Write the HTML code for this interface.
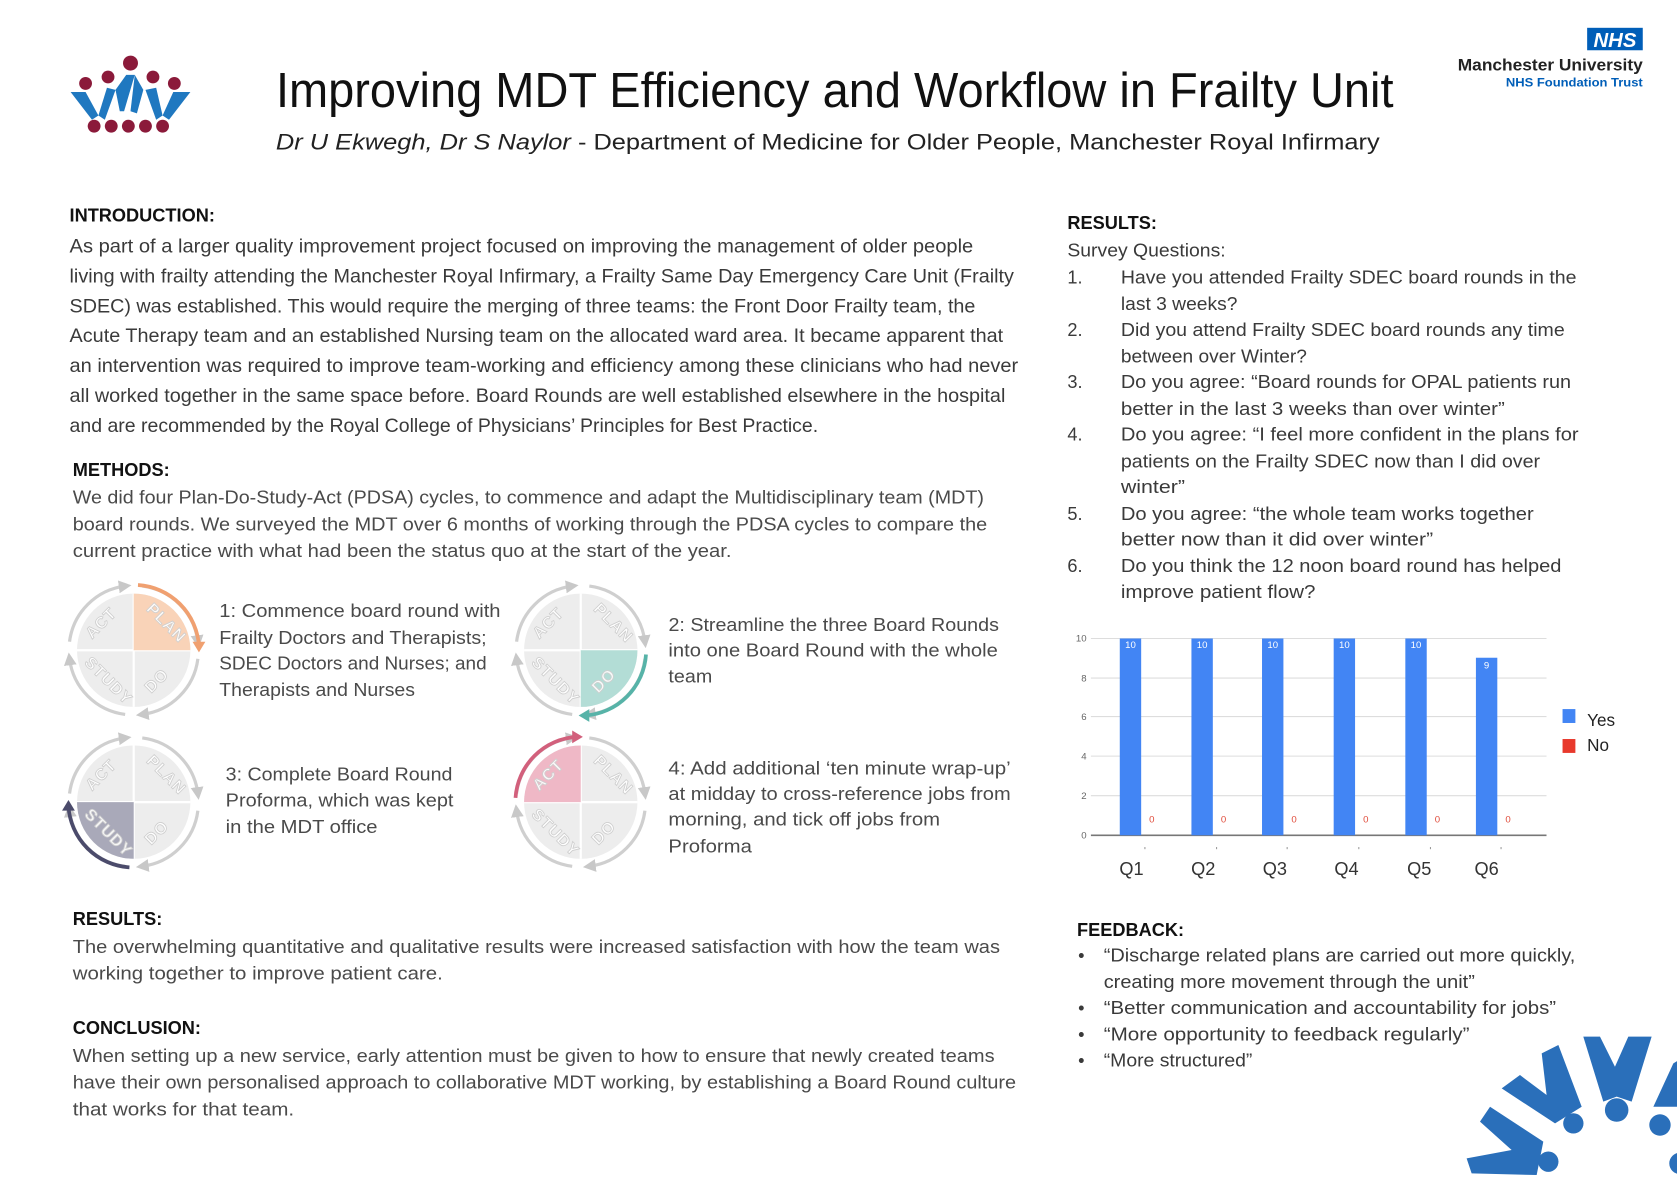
<!DOCTYPE html>
<html><head><meta charset="utf-8"><style>
html,body{margin:0;padding:0;background:#fff;}
svg{display:block;}
text{font-family:"Liberation Sans",sans-serif;}
.b{font-size:18px;fill:#3a3a3a;}
.m{font-size:17.5px;fill:#4a4a4a;}
.h{font-size:17px;font-weight:bold;fill:#111;}
.r{font-size:17px;fill:#3a3a3a;}
.q{font-family:"Liberation Sans",sans-serif;font-size:15px;font-weight:bold;fill:#fff;fill-opacity:0.9;stroke:#cfcfcf;stroke-width:0.8;letter-spacing:1px;}
</style></head><body>
<svg width="1677" height="1185" viewBox="0 0 1568 1108" xmlns="http://www.w3.org/2000/svg">
<defs>
<marker id="ah" viewBox="0 0 10 10" refX="5" refY="5" markerWidth="4" markerHeight="4" orient="auto"><path d="M0,0L10,5L0,10z" fill="#c8c8c8"/></marker>
<g id="pdsa">
  <circle r="53" fill="#ededed"/>
  <line x1="-53" y1="0" x2="53" y2="0" stroke="#fff" stroke-width="2"/>
  <line x1="0" y1="-53" x2="0" y2="53" stroke="#fff" stroke-width="2"/>
  <path d="M8,-60 A60,60 0 0 1 60,-8" fill="none" stroke="#cfcfcf" stroke-width="3" marker-end="url(#ah)"/>
  <path d="M60,8 A60,60 0 0 1 8,60" fill="none" stroke="#cfcfcf" stroke-width="3" marker-end="url(#ah)"/>
  <path d="M-8,60 A60,60 0 0 1 -60,8" fill="none" stroke="#cfcfcf" stroke-width="3" marker-end="url(#ah)"/>
  <path d="M-60,-8 A60,60 0 0 1 -8,-60" fill="none" stroke="#cfcfcf" stroke-width="3" marker-end="url(#ah)"/>
</g>
<g id="lbl">
  <text class="q" transform="translate(-27,-22) rotate(-45)" text-anchor="middle">ACT</text>
  <text class="q" transform="translate(27,-22) rotate(45)" text-anchor="middle">PLAN</text>
  <text class="q" transform="translate(25,32) rotate(-45)" text-anchor="middle">DO</text>
  <text class="q" transform="translate(-27,32) rotate(45)" text-anchor="middle">STUDY</text>
</g>
</defs>

<!-- top-left logo -->
<g>
  <circle cx="122" cy="59" r="7" fill="#8b1a3a"/>
  <circle cx="80" cy="78" r="6" fill="#8b1a3a"/>
  <circle cx="163" cy="78" r="6" fill="#8b1a3a"/>
  <circle cx="101" cy="72" r="6" fill="#8b1a3a"/>
  <circle cx="143" cy="72" r="6" fill="#8b1a3a"/>
  <g fill="#1f78c0">
    <polygon points="66,86 80,86 92,108 86,112"/>
    <polygon points="92,108 100,82 108,84 98,112"/>
    <polygon points="108,84 118,70 126,70 116,104 112,104"/>
    <polygon points="126,70 134,84 128,106 122,104"/>
    <polygon points="136,84 146,82 152,108 146,112"/>
    <polygon points="152,108 162,86 178,86 158,112"/>
  </g>
  <circle cx="88" cy="118" r="6" fill="#8b1a3a"/>
  <circle cx="104" cy="118" r="6" fill="#8b1a3a"/>
  <circle cx="120" cy="118" r="6" fill="#8b1a3a"/>
  <circle cx="136" cy="118" r="6" fill="#8b1a3a"/>
  <circle cx="152" cy="118" r="6" fill="#8b1a3a"/>
</g>

<!-- title -->
<text x="258" y="100" font-size="46" fill="#111" textLength="1045" lengthAdjust="spacingAndGlyphs">Improving MDT Efficiency and Workflow in Frailty Unit</text>
<text x="258" y="140" font-size="21" fill="#222" textLength="1032" lengthAdjust="spacingAndGlyphs"><tspan font-style="italic">Dr U Ekwegh, Dr S Naylor</tspan> - Department of Medicine for Older People, Manchester Royal Infirmary</text>

<!-- NHS logo -->
<rect x="1484" y="26" width="52" height="21" fill="#005eb8"/>
<text x="1510" y="44" font-size="19" font-weight="bold" font-style="italic" fill="#fff" text-anchor="middle">NHS</text>
<text x="1536" y="66" font-size="15.5" font-weight="bold" fill="#222" text-anchor="end" textLength="173" lengthAdjust="spacingAndGlyphs">Manchester University</text>
<text x="1536" y="81" font-size="11.5" font-weight="bold" fill="#005eb8" text-anchor="end" textLength="128" lengthAdjust="spacingAndGlyphs">NHS Foundation Trust</text>

<!-- Introduction -->
<text class="h" x="65" y="207">INTRODUCTION:</text>
<g class="b">
<text x="65" y="236" textLength="845" lengthAdjust="spacingAndGlyphs">As part of a larger quality improvement project focused on improving the management of older people</text>
<text x="65" y="264" textLength="883" lengthAdjust="spacingAndGlyphs">living with frailty attending the Manchester Royal Infirmary, a Frailty Same Day Emergency Care Unit (Frailty</text>
<text x="65" y="292" textLength="847" lengthAdjust="spacingAndGlyphs">SDEC) was established. This would require the merging of three teams: the Front Door Frailty team, the</text>
<text x="65" y="320" textLength="873" lengthAdjust="spacingAndGlyphs">Acute Therapy team and an established Nursing team on the allocated ward area. It became apparent that</text>
<text x="65" y="348" textLength="887" lengthAdjust="spacingAndGlyphs">an intervention was required to improve team-working and efficiency among these clinicians who had never</text>
<text x="65" y="376" textLength="875" lengthAdjust="spacingAndGlyphs">all worked together in the same space before. Board Rounds are well established elsewhere in the hospital</text>
<text x="65" y="404" textLength="700" lengthAdjust="spacingAndGlyphs">and are recommended by the Royal College of Physicians’ Principles for Best Practice.</text>
</g>

<!-- Methods -->
<text class="h" x="68" y="445">METHODS:</text>
<g class="m">
<text x="68" y="471" textLength="852" lengthAdjust="spacingAndGlyphs">We did four Plan-Do-Study-Act (PDSA) cycles, to commence and adapt the Multidisciplinary team (MDT)</text>
<text x="68" y="496" textLength="855" lengthAdjust="spacingAndGlyphs">board rounds. We surveyed the MDT over 6 months of working through the PDSA cycles to compare the</text>
<text x="68" y="521" textLength="616" lengthAdjust="spacingAndGlyphs">current practice with what had been the status quo at the start of the year.</text>
</g>

<!-- PDSA 1 -->
<g transform="translate(125,608)">
  <use href="#pdsa"/>
  <path d="M0,0 L0,-53 A53,53 0 0 1 53,0 Z" fill="#f9d3b8"/>
  <path d="M4,-61 A61,61 0 0 1 61,-4" fill="none" stroke="#f0a070" stroke-width="3.5"/>
  <polygon points="55,-8 67,-8 61,2" fill="#f0a070"/>
  <use href="#lbl"/>
</g>
<!-- PDSA 2 -->
<g transform="translate(543,608)">
  <use href="#pdsa"/>
  <path d="M0,0 L53,0 A53,53 0 0 1 0,53 Z" fill="#b3ddd6"/>
  <path d="M61,4 A61,61 0 0 1 4,61" fill="none" stroke="#57b3a8" stroke-width="3.5"/>
  <polygon points="8,55 8,67 -2,61" fill="#57b3a8"/>
  <use href="#lbl"/>
</g>
<!-- PDSA 3 -->
<g transform="translate(125,750)">
  <use href="#pdsa"/>
  <path d="M0,0 L0,53 A53,53 0 0 1 -53,0 Z" fill="#a9a9b9"/>
  <path d="M-4,61 A61,61 0 0 1 -61,4" fill="none" stroke="#4b4b6b" stroke-width="3.5"/>
  <polygon points="-55,8 -67,8 -61,-2" fill="#4b4b6b"/>
  <use href="#lbl"/>
</g>
<!-- PDSA 4 -->
<g transform="translate(543,750)">
  <use href="#pdsa"/>
  <path d="M0,0 L-53,0 A53,53 0 0 1 0,-53 Z" fill="#efb8c6"/>
  <path d="M-61,-4 A61,61 0 0 1 -4,-61" fill="none" stroke="#d2607c" stroke-width="3.5"/>
  <polygon points="-8,-55 -8,-67 2,-61" fill="#d2607c"/>
  <use href="#lbl"/>
</g>

<g class="m">
<text x="205" y="577" textLength="263" lengthAdjust="spacingAndGlyphs">1: Commence board round with</text>
<text x="205" y="602" textLength="250" lengthAdjust="spacingAndGlyphs">Frailty Doctors and Therapists;</text>
<text x="205" y="626" textLength="250" lengthAdjust="spacingAndGlyphs">SDEC Doctors and Nurses; and</text>
<text x="205" y="651" textLength="183" lengthAdjust="spacingAndGlyphs">Therapists and Nurses</text>
<text x="625" y="590" textLength="309" lengthAdjust="spacingAndGlyphs">2: Streamline the three Board Rounds</text>
<text x="625" y="614" textLength="308" lengthAdjust="spacingAndGlyphs">into one Board Round with the whole</text>
<text x="625" y="638" textLength="41" lengthAdjust="spacingAndGlyphs">team</text>
<text x="211" y="730" textLength="212" lengthAdjust="spacingAndGlyphs">3: Complete Board Round</text>
<text x="211" y="754" textLength="213" lengthAdjust="spacingAndGlyphs">Proforma, which was kept</text>
<text x="211" y="779" textLength="142" lengthAdjust="spacingAndGlyphs">in the MDT office</text>
<text x="625" y="724" textLength="320" lengthAdjust="spacingAndGlyphs">4: Add additional ‘ten minute wrap-up’</text>
<text x="625" y="748" textLength="320" lengthAdjust="spacingAndGlyphs">at midday to cross-reference jobs from</text>
<text x="625" y="772" textLength="254" lengthAdjust="spacingAndGlyphs">morning, and tick off jobs from</text>
<text x="625" y="797" textLength="78" lengthAdjust="spacingAndGlyphs">Proforma</text>
</g>

<!-- Results left -->
<text class="h" x="68" y="865">RESULTS:</text>
<g class="m">
<text x="68" y="891" textLength="867" lengthAdjust="spacingAndGlyphs">The overwhelming quantitative and qualitative results were increased satisfaction with how the team was</text>
<text x="68" y="916" textLength="346" lengthAdjust="spacingAndGlyphs">working together to improve patient care.</text>
</g>
<text class="h" x="68" y="967">CONCLUSION:</text>
<g class="m">
<text x="68" y="993" textLength="862" lengthAdjust="spacingAndGlyphs">When setting up a new service, early attention must be given to how to ensure that newly created teams</text>
<text x="68" y="1018" textLength="882" lengthAdjust="spacingAndGlyphs">have their own personalised approach to collaborative MDT working, by establishing a Board Round culture</text>
<text x="68" y="1043" textLength="207" lengthAdjust="spacingAndGlyphs">that works for that team.</text>
</g>

<!-- Results right -->
<text class="h" x="998" y="214">RESULTS:</text>
<g class="r">
<text x="998" y="240" textLength="148" lengthAdjust="spacingAndGlyphs">Survey Questions:</text>
<text x="998" y="265">1.</text>
<text x="1048" y="265" textLength="426" lengthAdjust="spacingAndGlyphs">Have you attended Frailty SDEC board rounds in the</text>
<text x="1048" y="290" textLength="109" lengthAdjust="spacingAndGlyphs">last 3 weeks?</text>
<text x="998" y="314">2.</text>
<text x="1048" y="314" textLength="415" lengthAdjust="spacingAndGlyphs">Did you attend Frailty SDEC board rounds any time</text>
<text x="1048" y="339" textLength="174" lengthAdjust="spacingAndGlyphs">between over Winter?</text>
<text x="998" y="363">3.</text>
<text x="1048" y="363" textLength="421" lengthAdjust="spacingAndGlyphs">Do you agree: “Board rounds for OPAL patients run</text>
<text x="1048" y="388" textLength="359" lengthAdjust="spacingAndGlyphs">better in the last 3 weeks than over winter”</text>
<text x="998" y="412">4.</text>
<text x="1048" y="412" textLength="428" lengthAdjust="spacingAndGlyphs">Do you agree: “I feel more confident in the plans for</text>
<text x="1048" y="437" textLength="392" lengthAdjust="spacingAndGlyphs">patients on the Frailty SDEC now than I did over</text>
<text x="1048" y="461" textLength="60" lengthAdjust="spacingAndGlyphs">winter”</text>
<text x="998" y="486">5.</text>
<text x="1048" y="486" textLength="386" lengthAdjust="spacingAndGlyphs">Do you agree: “the whole team works together</text>
<text x="1048" y="510" textLength="292" lengthAdjust="spacingAndGlyphs">better now than it did over winter”</text>
<text x="998" y="535">6.</text>
<text x="1048" y="535" textLength="412" lengthAdjust="spacingAndGlyphs">Do you think the 12 noon board round has helped</text>
<text x="1048" y="559" textLength="182" lengthAdjust="spacingAndGlyphs">improve patient flow?</text>
</g>

<!-- chart -->
<g>
  <g stroke="#ddd" stroke-width="1">
    <line x1="1020" y1="597" x2="1446" y2="597"/>
    <line x1="1020" y1="634" x2="1446" y2="634"/>
    <line x1="1020" y1="670" x2="1446" y2="670"/>
    <line x1="1020" y1="707" x2="1446" y2="707"/>
    <line x1="1020" y1="744" x2="1446" y2="744"/>
  </g>
  <line x1="1020" y1="781" x2="1446" y2="781" stroke="#777" stroke-width="1.5"/>
  <g font-size="9" fill="#666" text-anchor="end">
    <text x="1016" y="600">10</text><text x="1016" y="637">8</text><text x="1016" y="673">6</text>
    <text x="1016" y="710">4</text><text x="1016" y="747">2</text><text x="1016" y="784">0</text>
  </g>
  <g fill="#4285f4">
    <rect x="1047" y="597" width="20" height="184"/>
    <rect x="1114" y="597" width="20" height="184"/>
    <rect x="1180" y="597" width="20" height="184"/>
    <rect x="1247" y="597" width="20" height="184"/>
    <rect x="1314" y="597" width="20" height="184"/>
    <rect x="1380" y="615" width="20" height="166"/>
  </g>
  <g font-size="9" fill="#fff" text-anchor="middle">
    <text x="1057" y="606">10</text><text x="1124" y="606">10</text><text x="1190" y="606">10</text>
    <text x="1257" y="606">10</text><text x="1324" y="606">10</text><text x="1390" y="625">9</text>
  </g>
  <g font-size="9" fill="#e04b3a" text-anchor="middle">
    <text x="1077" y="769">0</text><text x="1144" y="769">0</text><text x="1210" y="769">0</text>
    <text x="1277" y="769">0</text><text x="1344" y="769">0</text><text x="1410" y="769">0</text>
  </g>
  <g fill="#999">
    <rect x="1070" y="792" width="1" height="2"/><rect x="1137" y="792" width="1" height="2"/><rect x="1203" y="792" width="1" height="2"/>
    <rect x="1270" y="792" width="1" height="2"/><rect x="1337" y="792" width="1" height="2"/><rect x="1403" y="792" width="1" height="2"/>
  </g>
  <g font-size="17" fill="#333" text-anchor="middle">
    <text x="1058" y="818">Q1</text><text x="1125" y="818">Q2</text><text x="1192" y="818">Q3</text>
    <text x="1259" y="818">Q4</text><text x="1327" y="818">Q5</text><text x="1390" y="818">Q6</text>
  </g>
  <rect x="1461" y="663" width="12" height="13" fill="#4285f4"/>
  <text x="1484" y="679" font-size="16" fill="#222">Yes</text>
  <rect x="1461" y="691" width="12" height="13" fill="#e8392c"/>
  <text x="1484" y="702" font-size="16" fill="#222">No</text>
</g>

<!-- feedback -->
<text class="h" x="1007" y="875">FEEDBACK:</text>
<g class="r">
<text x="1008" y="899">•</text>
<text x="1032" y="899" textLength="441" lengthAdjust="spacingAndGlyphs">“Discharge related plans are carried out more quickly,</text>
<text x="1032" y="924" textLength="347" lengthAdjust="spacingAndGlyphs">creating more movement through the unit”</text>
<text x="1008" y="948">•</text>
<text x="1032" y="948" textLength="423" lengthAdjust="spacingAndGlyphs">“Better communication and accountability for jobs”</text>
<text x="1008" y="973">•</text>
<text x="1032" y="973" textLength="342" lengthAdjust="spacingAndGlyphs">“More opportunity to feedback regularly”</text>
<text x="1008" y="997">•</text>
<text x="1032" y="997" textLength="139" lengthAdjust="spacingAndGlyphs">“More structured”</text>
</g>

<!-- bottom-right logo -->
<g fill="#2a6fba">
  <polygon points="1480.4,969.3 1496,969.3 1510,997.4 1522.5,969.3 1544.3,969.3 1525.6,1030.1 1511.6,1025.4 1499.1,1030.1"/>
  <polygon points="1404.1,1017.7 1421.2,1005.2 1446.1,1023.9 1441.5,984.9 1457.1,977.1 1478.9,1034.8 1454,1050.4"/>
  <polygon points="1371.3,1083.1 1413.4,1075.3 1383.8,1048.8 1393.2,1034.8 1443,1067.5 1436.8,1098.7 1376,1097.1"/>
  <polygon points="1545.9,1034.8 1564.6,994.3 1570,991 1570,1034.8"/>
  <circle cx="1447.7" cy="1086.2" r="9.5"/>
  <circle cx="1471.1" cy="1050.4" r="9.5"/>
  <circle cx="1511.6" cy="1037.9" r="11"/>
  <circle cx="1552.1" cy="1051.9" r="10"/>
  <circle cx="1570.8" cy="1087.8" r="10"/>
</g>
</svg>
</body></html>
